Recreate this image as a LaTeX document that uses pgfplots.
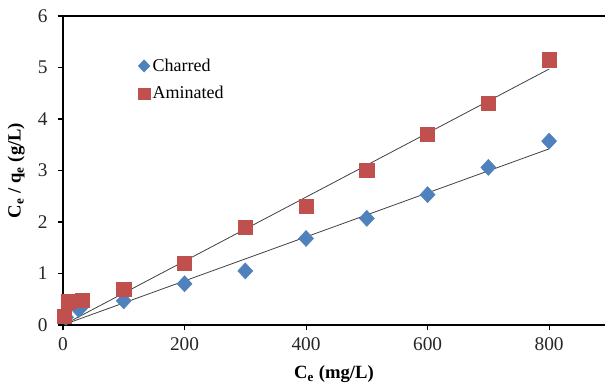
\documentclass[border=0pt]{standalone}
\usepackage{pgfplots}
\pgfplotsset{compat=1.18}
\usepackage{fontspec}
\setmainfont{Liberation Serif}
\definecolor{cblue}{HTML}{4F81BD}
\definecolor{cred}{HTML}{C0504D}
\begin{document}
\begin{tikzpicture}
\begin{axis}[
  scale only axis,
  width=406.5pt, height=231.75pt,
  xmin=0, xmax=892, ymin=0, ymax=6,
  xtick={0,200,400,600,800},
  ytick={0,1,2,3,4,5,6},
  axis x line=box, axis y line*=left,
  axis line style={line width=1.5pt, black},
  tick style={line width=0.8pt, black},
  tick align=outside,
  major tick length=4pt,
  xtick pos=bottom, ytick pos=left,
  /pgf/number format/assume math mode=true,
  tick label style={font=\fontsize{14.5}{16}\selectfont, color=black!85},
  yticklabel style={xshift=-4pt},
  xticklabel style={yshift=-2pt},
  xlabel={\textbf{C\textsubscript{e} (mg/L)}},
  ylabel={\textbf{C\textsubscript{e} / q\textsubscript{e} (g/L)}},
  label style={font=\fontsize{14}{16}\selectfont},
  xlabel style={yshift=-4pt},
  ylabel style={yshift=3pt},
  legend style={draw=none, fill=none, at={(0.131,0.88)}, anchor=north west,
    font=\fontsize{13.5}{15}\selectfont, row sep=6pt,
    legend cell align=left},
  legend image code/.code={\draw[#1] plot coordinates {(0.12cm,0cm)};},
  clip=false,
]
\addplot[only marks, mark=diamond*, mark size=6pt, color=cblue, mark options={fill=cblue, draw=cblue, xscale=1.25},
  legend image post style={mark size=4.6pt}]
  coordinates {(5,0.15) (26,0.3) (30,0.35) (100,0.47) (200,0.8) (300,1.05) (400,1.68) (500,2.07) (600,2.53) (700,3.06) (800,3.57)};
\addlegendentry{Charred}
\addplot[only marks, mark=square*, mark size=5.3pt, color=cred, mark options={fill=cred, draw=cred},
  legend image post style={mark size=4.4pt}]
  coordinates {(2,0.17) (8,0.45) (31,0.48) (100,0.7) (200,1.2) (300,1.9) (400,2.3) (500,3.0) (600,3.7) (700,4.3) (800,5.15)};
\addlegendentry{Aminated}
\addplot[black!75, line width=0.6pt, forget plot] coordinates {(2,0.01) (800,3.42)};
\addplot[black!75, line width=0.6pt, forget plot] coordinates {(2,0.01) (800,4.97)};
\end{axis}
\pgfresetboundingbox
\path (-47.25pt,-44.25pt) rectangle (406.5pt,243.75pt);
\end{tikzpicture}
\end{document}
